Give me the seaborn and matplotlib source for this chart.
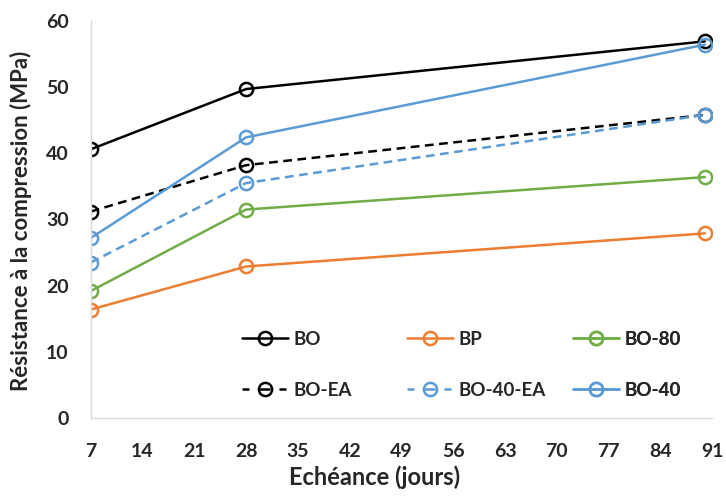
import matplotlib
matplotlib.use("Agg")
import matplotlib.pyplot as plt
from matplotlib.lines import Line2D
import seaborn as sns
import pandas as pd

days = [7, 28, 90]
series_names = ["BO", "BP", "BO-80", "BO-EA", "BO-40-EA", "BO-40"]
bo = [40.6, 49.7, 56.9]
bp = [16.4, 22.9, 27.9]
bo80 = [19.2, 31.5, 36.4]
bo_ea = [31.2, 38.2, 45.8]
bo40_ea = [23.5, 35.5, 45.8]
bo40 = [27.2, 42.4, 56.4]
values = [bo, bp, bo80, bo_ea, bo40_ea, bo40]
x_ticks = list(range(7, 92, 7))
y_ticks = list(range(0, 61, 10))

colors = {"BO": "#000000", "BP": "#ED7D31", "BO-80": "#70AD47",
          "BO-EA": "#000000", "BO-40-EA": "#5B9BD5", "BO-40": "#5B9BD5"}
dashed = {"BO-EA", "BO-40-EA"}

sns.set_style("white")
plt.rcParams['font.family'] = ['Lato', 'DejaVu Sans']
plt.rcParams['font.weight'] = 'bold'

fig = plt.figure(figsize=(7.26, 4.96), dpi=100)
ax = fig.add_axes([0.125, 0.157, 0.856, 0.801])

LW = 1.8
MS = 9.5
handles = {}
for name, vals in zip(series_names, values):
    df = pd.DataFrame({"x": days, "y": vals})
    sns.lineplot(data=df, x="x", y="y", ax=ax, color=colors[name],
                 linewidth=LW, marker="o", markersize=MS, markerfacecolor="none",
                 markeredgecolor=colors[name], markeredgewidth=LW,
                 linestyle=(0, (3.5, 2.2)) if name in dashed else "-")
    handles[name] = Line2D([], [], color=colors[name], linewidth=LW, marker="o",
                           markersize=MS, markerfacecolor="none",
                           markeredgecolor=colors[name], markeredgewidth=LW,
                           linestyle=(0, (2.8, 3.6, 4.8, 3.6)) if name in dashed else "-")

ax.set_xlim(7, 91)
ax.set_ylim(0, 60)
ax.set_xticks(x_ticks)
ax.set_yticks(y_ticks)
ax.tick_params(axis='both', labelsize=14, length=6, color="#D9D9D9", width=1)
for lab in ax.get_xticklabels() + ax.get_yticklabels():
    lab.set_fontweight('bold')
ax.tick_params(axis='x', pad=12)
ax.tick_params(axis='y', pad=10)
for s in ["top", "right"]:
    ax.spines[s].set_visible(False)
for s in ["left", "bottom"]:
    ax.spines[s].set_color("#D9D9D9")
    ax.spines[s].set_linewidth(1)
ax.set_xlabel("Echéance (jours)", fontsize=17, fontweight='bold')
ax.xaxis.set_label_coords(0.457, -0.118)
ax.set_ylabel("Résistance à la compression (MPa)", fontsize=16, fontweight='bold')
ax.yaxis.set_label_coords(-0.095, 0.497)

columns = [["BO", "BO-EA"], ["BP", "BO-40-EA"], ["BO-80", "BO-40"]]
col_x = [0.243, 0.509, 0.776]
for names, cx in zip(columns, col_x):
    leg = ax.legend([handles[n] for n in names], names, loc="center left",
                    bbox_to_anchor=(cx, 0.134), frameon=False, fontsize=13.5,
                    handlelength=2.45, labelspacing=1.8, handletextpad=0.3,
                    borderpad=0, borderaxespad=0)
    for t in leg.get_texts():
        t.set_fontweight('bold')
    ax.add_artist(leg)

fig.savefig("out.png", dpi=100)
